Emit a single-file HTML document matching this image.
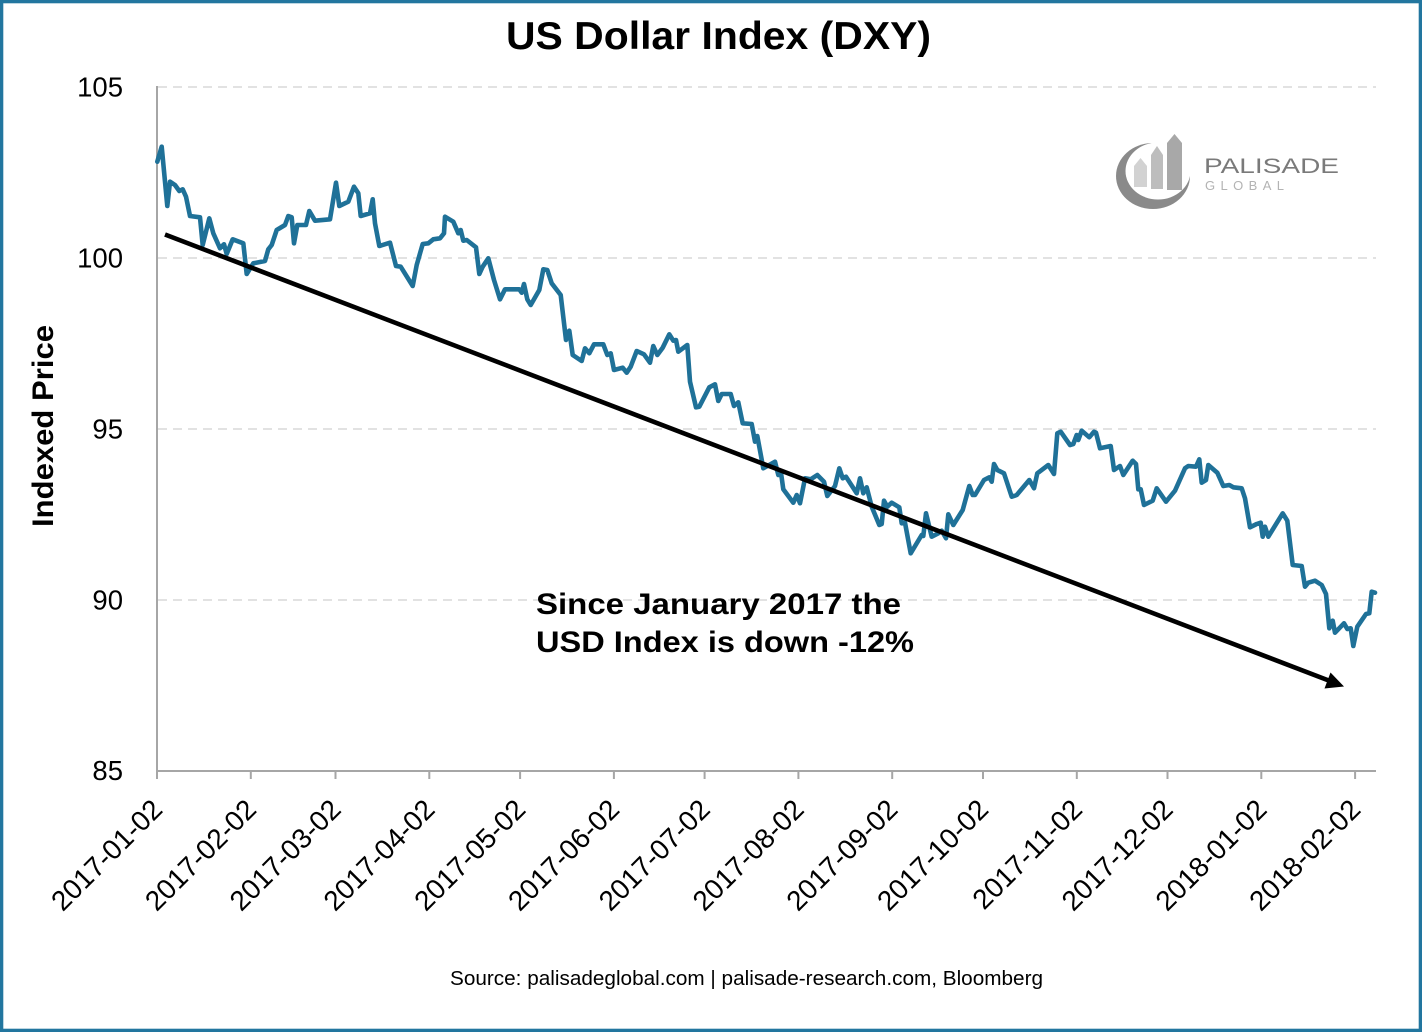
<!DOCTYPE html>
<html>
<head>
<meta charset="utf-8">
<style>
  html, body { margin: 0; padding: 0; background: #ffffff; }
  body { width: 1422px; height: 1032px; overflow: hidden; }
  svg { display: block; }
  text { font-family: "Liberation Sans", Arial, sans-serif; fill: #000; }
</style>
</head>
<body>
<svg width="1422" height="1032" viewBox="0 0 1422 1032" xmlns="http://www.w3.org/2000/svg">
  <defs>
    <mask id="ringmask">
      <rect x="1100" y="120" width="120" height="110" fill="#000"/>
      <ellipse cx="1153" cy="176" rx="37" ry="33" fill="#fff"/>
      <ellipse cx="1158" cy="171" rx="32.5" ry="28.5" fill="#000"/>
    </mask>
  </defs>
  <rect x="0" y="0" width="1422" height="1032" fill="#ffffff"/>
  <!-- frame -->
  <rect x="1.6" y="1.6" width="1418.8" height="1028.8" fill="none" stroke="#22769f" stroke-width="3.4"/>

  <!-- title -->
  <text x="506" y="49" font-size="39" font-weight="bold" textLength="425" lengthAdjust="spacingAndGlyphs">US Dollar Index (DXY)</text>

  <!-- gridlines -->
  <g stroke="#d9d9d9" stroke-width="1.6" stroke-dasharray="9 6" fill="none">
    <line x1="158" y1="87" x2="1376" y2="87"/>
    <line x1="158" y1="258" x2="1376" y2="258"/>
    <line x1="158" y1="429" x2="1376" y2="429"/>
    <line x1="158" y1="600" x2="1376" y2="600"/>
  </g>

  <!-- axes -->
  <g stroke="#a6a6a6" stroke-width="2" fill="none">
    <line x1="157" y1="86" x2="157" y2="779"/>
    <line x1="156" y1="771" x2="1376" y2="771"/>
    <line x1="250.8" y1="771" x2="250.8" y2="779"/>
    <line x1="335.5" y1="771" x2="335.5" y2="779"/>
    <line x1="429.3" y1="771" x2="429.3" y2="779"/>
    <line x1="520.1" y1="771" x2="520.1" y2="779"/>
    <line x1="613.9" y1="771" x2="613.9" y2="779"/>
    <line x1="704.6" y1="771" x2="704.6" y2="779"/>
    <line x1="798.4" y1="771" x2="798.4" y2="779"/>
    <line x1="892.2" y1="771" x2="892.2" y2="779"/>
    <line x1="983.0" y1="771" x2="983.0" y2="779"/>
    <line x1="1076.8" y1="771" x2="1076.8" y2="779"/>
    <line x1="1167.5" y1="771" x2="1167.5" y2="779"/>
    <line x1="1261.3" y1="771" x2="1261.3" y2="779"/>
    <line x1="1355.1" y1="771" x2="1355.1" y2="779"/>
  </g>

  <!-- y tick labels -->
  <g font-size="27.5" text-anchor="end">
    <text x="123" y="96.5">105</text>
    <text x="123" y="267.5">100</text>
    <text x="123" y="438.5">95</text>
    <text x="123" y="609.5">90</text>
    <text x="123" y="780">85</text>
  </g>

  <!-- y axis title -->
  <text transform="translate(53,426) rotate(-90)" x="0" y="0" font-size="30" font-weight="bold" text-anchor="middle" textLength="202" lengthAdjust="spacingAndGlyphs">Indexed Price</text>

  <!-- x tick labels -->
  <g font-size="28" text-anchor="end">
    <text transform="translate(157,804) rotate(-45)" y="10">2017-01-02</text>
    <text transform="translate(250.8,804) rotate(-45)" y="10">2017-02-02</text>
    <text transform="translate(335.5,804) rotate(-45)" y="10">2017-03-02</text>
    <text transform="translate(429.3,804) rotate(-45)" y="10">2017-04-02</text>
    <text transform="translate(520.1,804) rotate(-45)" y="10">2017-05-02</text>
    <text transform="translate(613.9,804) rotate(-45)" y="10">2017-06-02</text>
    <text transform="translate(704.6,804) rotate(-45)" y="10">2017-07-02</text>
    <text transform="translate(798.4,804) rotate(-45)" y="10">2017-08-02</text>
    <text transform="translate(892.2,804) rotate(-45)" y="10">2017-09-02</text>
    <text transform="translate(983.0,804) rotate(-45)" y="10">2017-10-02</text>
    <text transform="translate(1076.8,804) rotate(-45)" y="10">2017-11-02</text>
    <text transform="translate(1167.5,804) rotate(-45)" y="10">2017-12-02</text>
    <text transform="translate(1261.3,804) rotate(-45)" y="10">2018-01-02</text>
    <text transform="translate(1355.1,804) rotate(-45)" y="10">2018-02-02</text>
  </g>

  <!-- logo -->
  <g>
    <rect x="1110" y="135" width="90" height="80" fill="#8a8a8a" mask="url(#ringmask)"/>
    <path d="M1134,187 L1134,166 L1140.5,158 L1147,166 L1147,187 Z" fill="#d2d2d2"/>
    <path d="M1151,189 L1151,155 L1157,146 L1163,155 L1163,189 Z" fill="#bdbdbd"/>
    <path d="M1167,190 L1167,143 L1174.5,134 L1182,143 L1182,190 Z" fill="#a8a8a8"/>
    <text x="1204" y="173" font-size="21" textLength="135" lengthAdjust="spacingAndGlyphs" style="fill:#7a7a7a">PALISADE</text>
    <text x="1205" y="190" font-size="13" textLength="79" lengthAdjust="spacing" style="fill:#b3b3b3">GLOBAL</text>
  </g>

  <!-- series -->
  <polyline fill="none" stroke="#1f7198" stroke-width="4.6" stroke-linejoin="round" stroke-linecap="round" points="
157.3,161.7 161.7,146.7 167.3,206 170,181.7 175,185 179.3,191 182.7,189.3 186,196.7 190,216 200,217.3
202.7,245 209.3,218.3 213.3,233.3 220,248.3 224,244.3 226.7,254 232.7,239.3 243.3,243.3 246.7,274 253.3,263.3
265,261 268.3,249.3 271.7,245 276.7,230 285,225 288.3,216 291.7,217.3 294,243.3 297.3,225 306,225
309.3,211 315,220.7 330,219.3 336,182.7 339.3,206 348.3,201.7 354,186.7 358.3,193.3 360.7,216 370,213.3
372.7,199.3 375,223.3 379.3,246 390,242.7 396,266 400.7,266.7 412.7,286 416.7,265 422.7,244 428.3,243.3
433.3,239.3 440,238.3 444,233.3 445,216.7 453.3,221.7 458.3,233.3 460.7,230 463.3,240.7 466.7,240 476,247.3
479.3,274 482.7,266.7 488.3,258.3 494,280 500,299.3 505,289.3 519.3,289.3 521.7,292.7 524,284 527.3,299.3
530.7,305 539.3,290 543.3,269.3 547.3,270 551.7,283.3 560.7,295 566,340 569.3,330.7 572.7,355 581.7,361
585,348.3 589.3,353.3 594,344.3 603.3,344.3 607.3,355 610.7,353.3 614,370 622.7,367.7 626.7,372.7 630.7,366.7
636.7,351 644,354.3 650,362.7 653.3,346 657.3,355 662.7,347.7 669.3,334.3 673.3,340.7 676,340 678.3,351.7
687.3,345 690,381.7 696,407.3 699.3,406.7 709.3,387.3 715,384.3 718.3,401 721.7,394 730.7,394 734,406
738.3,402.3 742.7,423.3 751.7,424 755,441.7 757.3,436 763.3,468.3 775,461.7 778.3,475 780.7,470.7 783.3,489.3
793.3,502.7 796.7,495 800,503.3 805,478.3 810.7,479.3 817.3,475 824,481.7 827.3,496 835,486 839.3,468.3
842.7,478.3 846,476.7 856.7,493.3 860,478.3 863.3,493.3 866.7,487.3 871.7,506.7 879.3,525 881.7,524 884,500.7
887.3,506.7 891.7,502.7 899.3,507.3 901.7,523.3 905,522.7 910.7,553.3 921.7,535 923.3,536 926,513.3 931.7,536.7
938.3,533.3 941.7,530.7 946,538.3 948.3,514.3 953.3,525 962.7,510 969.3,486 972.7,495 975,495 984,480
989.3,477.3 991.7,481.7 994,464 997.3,470 1004,473.3 1011.7,496.7 1016.7,495 1029.3,480 1034,488.3 1037.3,473.3
1048.3,465 1054,474 1057.3,433.3 1060.7,431.7 1070,445 1073.3,444 1076.7,435 1078.3,440 1081.7,430.7 1089.3,437.3
1094,431.7 1096,432.7 1100,448.3 1110.7,446 1114,470 1120,466 1123.3,475 1132.7,460.7 1136,464 1138.3,489.3
1140.7,489.3 1144,505 1152.7,500.7 1156.7,488.3 1166,501.7 1175,490.7 1185,468.3 1188.3,466 1196,466.7 1199.3,459.3
1201.7,482.7 1206,480 1208.3,465 1217.3,472.7 1223.3,486 1229.3,485 1233.3,487.3 1241.7,488.3 1245,498.3 1250,527.3
1256.7,524 1260.7,522.7 1262.7,536.7 1265,526.7 1268.3,536.7 1282.7,513.3 1287.3,520.7 1292.7,565 1301.7,566 1305,586.7
1308.3,582.7 1315,580.7 1321.7,585 1326,594 1329.3,628.3 1332.7,620.7 1335,632.7 1344,623.3 1347.3,629 1350.7,628.3
1353.3,646 1357.3,626.7 1366,614 1369.3,613.3 1371.7,591.7 1375,592.7"/>

  <!-- trend arrow -->
  <line x1="165" y1="234.5" x2="1330" y2="681" stroke="#000" stroke-width="4.6"/>
  <polygon points="1344,686.5 1324.5,688.5 1330.5,672.5" fill="#000"/>

  <!-- annotation -->
  <text x="536" y="614" font-size="30" font-weight="bold" textLength="365" lengthAdjust="spacingAndGlyphs">Since January 2017 the</text>
  <text x="536" y="652" font-size="30" font-weight="bold" textLength="378" lengthAdjust="spacingAndGlyphs">USD Index is down -12%</text>

  <!-- source -->
  <text x="450" y="985" font-size="20.5" textLength="593" lengthAdjust="spacingAndGlyphs">Source: palisadeglobal.com | palisade-research.com, Bloomberg</text>
</svg>
</body>
</html>
